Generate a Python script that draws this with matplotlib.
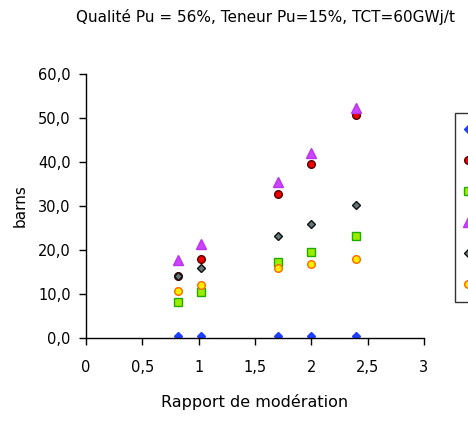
import matplotlib
matplotlib.use("Agg")
import matplotlib.pyplot as plt
from matplotlib.ticker import FuncFormatter

x = [0.82, 1.02, 1.70, 2.00, 2.40]
s_blue = [0.4, 0.4, 0.4, 0.4, 0.4]
s_red = [14.0, 17.9, 32.7, 39.5, 50.7]
s_green = [8.1, 10.3, 17.2, 19.5, 23.1]
s_purple = [17.7, 21.3, 35.5, 42.0, 52.4]
s_gray = [14.0, 15.9, 23.1, 26.0, 30.2]
s_orange = [10.6, 11.9, 15.9, 16.9, 17.9]

title = "Qualité Pu = 56%, Teneur Pu=15%, TCT=60GWj/t"
xlabel = "Rapport de modération"
ylabel = "barns"
xticks = [0, 0.5, 1, 1.5, 2, 2.5, 3]
yticks = [0, 10, 20, 30, 40, 50, 60]

plt.rcParams['font.family'] = ['DejaVu Sans']
fig = plt.figure(figsize=(4.68, 4.28), dpi=100)
ax = fig.add_axes([86/468, 1-337.7/428, (424-86)/468, (337.7-74.3)/428])

styles = [
    (s_blue, dict(marker='D', color='#1f3fff', mec='#1f3fff', ms=4.5)),
    (s_red, dict(marker='o', color='#ee0000', mec='#550000', ms=5.5)),
    (s_green, dict(marker='s', color='#99ee00', mec='#22aa00', ms=5.5)),
    (s_purple, dict(marker='^', color='#cc44ff', mec='#bb33ee', ms=6.5)),
    (s_gray, dict(marker='D', color='#667777', mec='#111111', ms=4.5)),
    (s_orange, dict(marker='o', color='#ffee00', mec='#ff6600', ms=5.5)),
]
handles = []
for vals, st in styles:
    h, = ax.plot(x, vals, linestyle='none', mew=1, **st)
    handles.append(h)

ax.set_xlim(0, 3)
ax.set_ylim(0, 60)
ax.set_xticks(xticks)
ax.set_yticks(yticks)
ax.xaxis.set_major_formatter(FuncFormatter(lambda v, p: ('%g' % v).replace('.', ',')))
ax.yaxis.set_major_formatter(FuncFormatter(lambda v, p: ('%.1f' % v).replace('.', ',')))
for s in ['top', 'right']:
    ax.spines[s].set_visible(False)
for s in ['left', 'bottom']:
    ax.spines[s].set_color('black')
    ax.spines[s].set_linewidth(1)
ax.tick_params(direction='out', length=5, width=1, labelsize=10.5, colors='black')
ax.tick_params(axis='x', pad=11)
ax.tick_params(axis='y', pad=6)
ax.set_xlabel(xlabel, fontsize=11.5)
ax.xaxis.set_label_coords(0.5, (337.7-402)/(337.7-74.3))
ax.xaxis.label.set_va('center')
ax.set_ylabel(ylabel, fontsize=11)
ax.yaxis.set_label_coords((20-86)/(424-86), 0.5)
ax.yaxis.label.set_va('center')
fig.text(265/468, 1-17/428, title, ha='center', va='center', fontsize=11)

leg = fig.legend(handles, [' '] * len(handles), loc='upper left',
                 bbox_to_anchor=(455/468, 1-112.7/428), borderaxespad=0,
                 frameon=True, fancybox=False, edgecolor='black', fontsize=10,
                 borderpad=0.75, labelspacing=1.22, handlelength=0.3, handletextpad=0.5)
leg.get_frame().set_linewidth(1)

fig.savefig("out.png", dpi=100)
